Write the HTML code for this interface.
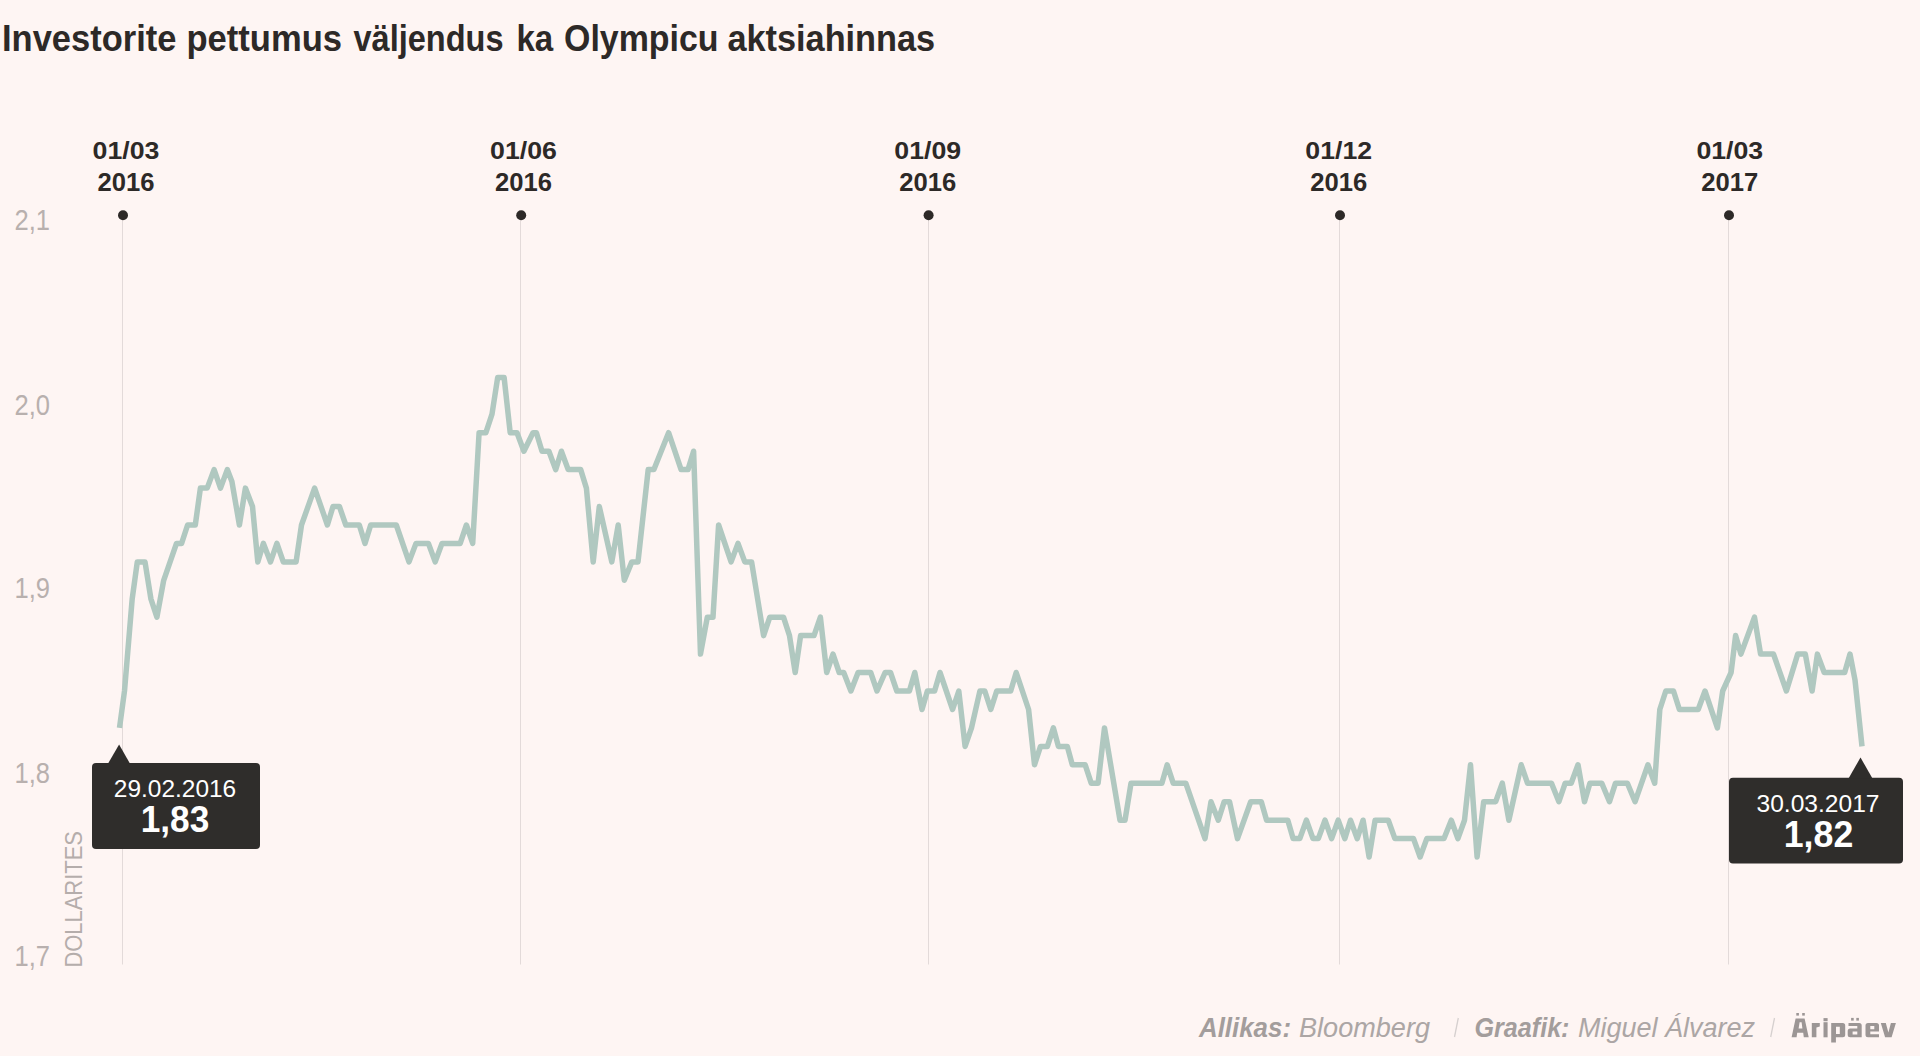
<!DOCTYPE html>
<html><head><meta charset="utf-8">
<style>
html,body{margin:0;padding:0;width:1920px;height:1056px;overflow:hidden;background:#fef5f3;}
svg{position:absolute;left:0;top:0;display:block;}
</style></head>
<body>
<svg width="1920" height="1056" viewBox="0 0 1920 1056">
<rect width="1920" height="1056" fill="#fef5f3"/>
<g font-family="Liberation Sans, sans-serif" font-weight="bold" font-size="36" fill="#2d2927"><text x="2.00" y="51" textLength="174.42" lengthAdjust="spacingAndGlyphs">Investorite</text><text x="186.50" y="51" textLength="155.55" lengthAdjust="spacingAndGlyphs">pettumus</text><text x="353.50" y="51" textLength="149.97" lengthAdjust="spacingAndGlyphs">väljendus</text><text x="516.50" y="51" textLength="36.75" lengthAdjust="spacingAndGlyphs">ka</text><text x="564.00" y="51" textLength="154.53" lengthAdjust="spacingAndGlyphs">Olympicu</text><text x="727.50" y="51" textLength="207.60" lengthAdjust="spacingAndGlyphs">aktsiahinnas</text></g>

<g stroke="#e3dad9" stroke-width="1">
<line x1="122.5" y1="215" x2="122.5" y2="964.5"/>
<line x1="520.5" y1="215" x2="520.5" y2="964.5"/>
<line x1="928.5" y1="215" x2="928.5" y2="964.5"/>
<line x1="1339.5" y1="215" x2="1339.5" y2="964.5"/>
<line x1="1728.5" y1="215" x2="1728.5" y2="964.5"/>
</g>
<g fill="#2d2927">
<circle cx="123" cy="215.3" r="5"/>
<circle cx="521.2" cy="215.3" r="5"/>
<circle cx="928.6" cy="215.3" r="5"/>
<circle cx="1340" cy="215.3" r="5"/>
<circle cx="1729" cy="215.3" r="5"/>
</g>
<g font-family="Liberation Sans, sans-serif" font-weight="bold" font-size="25" fill="#2d2927" text-anchor="middle" lengthAdjust="spacingAndGlyphs">
<text x="126" y="158.8" textLength="66.8" font-size="24.5" lengthAdjust="spacingAndGlyphs">01/03</text><text x="126" y="190.6" textLength="57" lengthAdjust="spacingAndGlyphs">2016</text>
<text x="523.5" y="158.8" textLength="66.8" font-size="24.5" lengthAdjust="spacingAndGlyphs">01/06</text><text x="523.5" y="190.6" textLength="57" lengthAdjust="spacingAndGlyphs">2016</text>
<text x="927.7" y="158.8" textLength="66.8" font-size="24.5" lengthAdjust="spacingAndGlyphs">01/09</text><text x="927.7" y="190.6" textLength="57" lengthAdjust="spacingAndGlyphs">2016</text>
<text x="1338.7" y="158.8" textLength="66.8" font-size="24.5" lengthAdjust="spacingAndGlyphs">01/12</text><text x="1338.7" y="190.6" textLength="57" lengthAdjust="spacingAndGlyphs">2016</text>
<text x="1729.8" y="158.8" textLength="66.8" font-size="24.5" lengthAdjust="spacingAndGlyphs">01/03</text><text x="1729.8" y="190.6" textLength="57" lengthAdjust="spacingAndGlyphs">2017</text>
</g>
<g font-family="Liberation Sans, sans-serif" font-size="30" fill="#b8b0ae" text-anchor="end">
<text x="50" y="230.2" textLength="35.5" lengthAdjust="spacingAndGlyphs">2,1</text>
<text x="50" y="414.5" textLength="35.5" lengthAdjust="spacingAndGlyphs">2,0</text>
<text x="50" y="598.2" textLength="35.5" lengthAdjust="spacingAndGlyphs">1,9</text>
<text x="50" y="783.2" textLength="35.5" lengthAdjust="spacingAndGlyphs">1,8</text>
<text x="50" y="966.3" textLength="35.5" lengthAdjust="spacingAndGlyphs">1,7</text>
</g>
<text transform="translate(82.2,967.6) rotate(-90)" font-family="Liberation Sans, sans-serif" font-size="24.5" fill="#b5adab" textLength="136.5" lengthAdjust="spacingAndGlyphs">DOLLARITES</text>

<polyline fill="none" stroke="#b0c8c0" stroke-width="5.5" stroke-linejoin="round" points="119.5,727.9 124.5,691.0 132.2,598.8 137.3,561.9 145,561.9 150.9,598.8 156.9,617.2 163.7,580.3 176.5,543.4 181.6,543.4 187.6,525.0 195.3,525.0 200.4,488.1 207.2,488.1 214.1,469.6 220.5,488.1 227.3,469.6 231.9,481.5 239.4,525.0 245.4,488.1 252.5,506.5 257.8,561.9 263.4,543.4 270.5,561.9 276.9,543.4 283.3,561.9 296.1,561.9 301.5,525.0 314.6,488.1 327.4,525.0 333,506.5 339.4,506.5 345.8,525.0 359.3,525.0 365,543.4 370.7,525.0 396.3,525.0 409,561.9 416,543.4 428.4,543.4 435.2,561.9 442,543.4 460.2,543.4 466.4,525.0 472.7,543.4 479.1,432.7 485.9,432.7 492,414.2 497.7,377.4 504.1,377.4 510.2,432.7 517,432.7 523.9,451.2 533,432.7 536.4,432.7 542,451.2 548.9,451.2 555.7,469.6 561.4,451.2 568.2,469.6 580.7,469.6 586.4,488.1 593.2,561.9 599.3,506.5 611.8,561.9 618.2,525.0 624.3,580.3 631.8,561.9 638,561.9 648.2,469.6 653.9,469.6 668.6,432.7 681.1,469.6 688,469.6 693.6,451.2 700.5,654.1 707.3,617.2 713,617.2 718.6,525.0 731.1,561.9 738,543.4 744.8,561.9 751.6,561.9 763.6,635.6 769.8,617.2 783.5,617.2 789.5,635.6 795.2,672.5 800.6,635.6 814,635.6 820.4,617.2 826.7,672.5 833,654.1 839.2,672.5 843.7,672.5 850.9,691.0 858.1,672.5 870.7,672.5 877,691.0 885.1,672.5 890.5,672.5 896.8,691.0 909.4,691.0 914.8,672.5 922,709.5 927.4,691.0 934.6,691.0 940,672.5 952.6,709.5 958.8,691.0 965.1,746.4 971.5,727.9 979.9,691.0 984.8,691.0 990.8,709.5 996.7,691.0 1010.7,691.0 1016.2,672.5 1028.6,709.5 1034.5,764.8 1040.5,746.4 1047.4,746.4 1053.4,727.9 1058.4,746.4 1067.3,746.4 1072.3,764.8 1085.2,764.8 1091.2,783.2 1098.1,783.2 1104.5,727.9 1120,820.2 1125,820.2 1131,783.2 1161.9,783.2 1167.2,764.8 1173.2,783.2 1185.8,783.2 1205,838.6 1211,801.7 1218.3,820.2 1224.2,801.7 1229.5,801.7 1237.5,838.6 1250.7,801.7 1261.3,801.7 1266.6,820.2 1287.8,820.2 1293.1,838.6 1299.8,838.6 1306.4,820.2 1313,838.6 1318.3,838.6 1325,820.2 1331.6,838.6 1338.2,820.2 1344.8,838.6 1350.5,820.2 1357.2,838.6 1363.1,820.2 1369.1,857.0 1375.1,820.2 1388.3,820.2 1394.9,838.6 1413.5,838.6 1420.1,857.0 1426.8,838.6 1444,838.6 1451.3,820.2 1457.9,838.6 1464.5,820.2 1470.5,764.8 1477.1,857.0 1483.7,801.7 1495.7,801.7 1502.3,783.2 1508.9,820.2 1521.2,764.8 1527.5,783.2 1551.5,783.2 1558.9,801.7 1565.2,783.2 1571.2,783.2 1578,764.8 1584.5,801.7 1589.9,783.2 1601.8,783.2 1609.5,801.7 1615.5,783.2 1627.4,783.2 1635.1,801.7 1647.9,764.8 1654.7,783.2 1659.8,709.5 1665.8,691.0 1673.5,691.0 1679.4,709.5 1698.2,709.5 1705,691.0 1717.4,727.9 1722.7,691.0 1731.1,672.5 1735.6,635.6 1740.9,654.1 1754.5,617.2 1760.6,654.1 1773.5,654.1 1786.4,691.0 1797.7,654.1 1805.3,654.1 1812.1,691.0 1817.4,654.1 1824.2,672.5 1844.7,672.5 1850,654.1 1855,679.9 1862,746.4"/>

<!-- tooltip 1 -->
<rect x="92" y="763" width="168" height="86" rx="4" fill="#2f2d2b"/>
<polygon points="107.8,764 119.1,744.5 130.2,764" fill="#2f2d2b"/>
<text x="175" y="796.9" text-anchor="middle" font-family="Liberation Sans, sans-serif" font-size="23" fill="#fff" textLength="122.4" lengthAdjust="spacingAndGlyphs">29.02.2016</text>
<text x="175" y="832" text-anchor="middle" font-family="Liberation Sans, sans-serif" font-weight="bold" font-size="36" fill="#fff" textLength="68.6" lengthAdjust="spacingAndGlyphs">1,83</text>
<!-- tooltip 2 -->
<rect x="1729" y="777.8" width="174" height="85.8" rx="4" fill="#2f2d2b"/>
<polygon points="1848.5,778.5 1860.5,757.5 1872.5,778.5" fill="#2f2d2b"/>
<text x="1818" y="811.5" text-anchor="middle" font-family="Liberation Sans, sans-serif" font-size="23" fill="#fff" textLength="123" lengthAdjust="spacingAndGlyphs">30.03.2017</text>
<text x="1818.5" y="846.5" text-anchor="middle" font-family="Liberation Sans, sans-serif" font-weight="bold" font-size="36" fill="#fff" textLength="69.5" lengthAdjust="spacingAndGlyphs">1,82</text>

<!-- footer -->
<g font-family="Liberation Sans, sans-serif" font-size="27" fill="#a39d9c">
<text x="1199" y="1037.4" font-weight="bold" font-style="italic" textLength="92" lengthAdjust="spacingAndGlyphs">Allikas:</text>
<text x="1299" y="1037.4" font-style="italic" fill="#aca6a5" textLength="131" lengthAdjust="spacingAndGlyphs">Bloomberg</text>
<text x="1474.5" y="1037.4" font-weight="bold" font-style="italic" textLength="95" lengthAdjust="spacingAndGlyphs">Graafik:</text>
<text x="1578" y="1037.4" font-style="italic" fill="#aca6a5" textLength="177" lengthAdjust="spacingAndGlyphs">Miguel Álvarez</text>
</g>
<g stroke="#d6d0cf" stroke-width="1.3">
<line x1="1458.3" y1="1018" x2="1454.5" y2="1037"/>
<line x1="1774.5" y1="1018" x2="1770.7" y2="1037"/>
</g>
<g fill="#9c9695" fill-rule="evenodd">
<path d="M1795.6,1018.4H1804.6L1808.7,1037.3H1803.8L1803.2,1032.8H1797.2L1796.6,1037.3H1791.6Z M1799.6,1022.3H1801.6L1802.4,1028.6H1798.6Z"/>
<rect x="1796.3" y="1013" width="2.6" height="2.6"/>
<rect x="1802.2" y="1013" width="2.6" height="2.6"/>
<path d="M1811.8,1023.1H1819.8V1026.6L1816.4,1027.6V1037.3H1811.8Z"/>
<rect x="1823.5" y="1018.1" width="4.1" height="3.1"/>
<rect x="1823.5" y="1022.2" width="4.1" height="15.1"/>
<path d="M1831.2,1023.1H1842.7Q1845.2,1023.1 1845.2,1025.6V1034.8Q1845.2,1037.3 1842.7,1037.3H1835.9V1042.6H1831.2Z M1836,1026.7H1839.8V1033.9H1836Z"/>
<path d="M1848.5,1023.1H1859.2Q1861.7,1023.1 1861.7,1025.6V1037.3H1850.2Q1847.7,1037.3 1847.7,1034.8V1031Q1847.7,1028.5 1850.2,1028.5H1857.3V1026H1848.5Z M1852.6,1031.4H1857.3V1034.6H1852.6Z"/>
<rect x="1851.1" y="1017.9" width="2.6" height="2.7"/>
<rect x="1856.3" y="1017.9" width="2.6" height="2.7"/>
<path d="M1868,1023.1H1876.5Q1879,1023.1 1879,1025.6V1031.4H1870.3V1034.3H1879V1037.3H1868Q1865.5,1037.3 1865.5,1034.8V1025.6Q1865.5,1023.1 1868,1023.1Z M1870.3,1026H1874.3V1029.2H1870.3Z"/>
<path d="M1880.8,1023.1H1885.8L1888.4,1032.4L1890.9,1023.1H1895.9L1891.6,1037.3H1885.1Z"/>
</g>
</svg>
</body></html>
